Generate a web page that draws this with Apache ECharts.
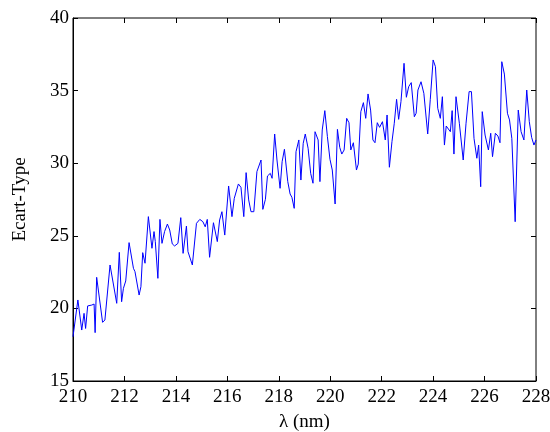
<!DOCTYPE html>
<html>
<head>
<meta charset="utf-8">
<script src="https://cdn.jsdelivr.net/npm/echarts@6/dist/echarts.min.js"></script>
<style>
  html, body { margin: 0; padding: 0; background: #fff; }
  #chart { width: 550px; height: 432px; }
</style>
</head>
<body>
<div id="chart"></div>
<script>
// longueur d'onde (nm) et écart-type
var wavelength = [
  210.00, 210.19, 210.34, 210.43, 210.49, 210.57, 210.73, 210.82, 210.86, 210.92,
  211.15, 211.24, 211.44, 211.70, 211.80, 211.89, 211.96, 212.05, 212.18, 212.35,
  212.41, 212.57, 212.64, 212.71, 212.80, 212.93, 213.07, 213.15, 213.20, 213.30,
  213.38, 213.46, 213.56, 213.67, 213.76, 213.86, 213.95, 214.08, 214.19, 214.28,
  214.41, 214.47, 214.54, 214.64, 214.80, 214.93, 215.05, 215.14, 215.22, 215.31,
  215.46, 215.61, 215.70, 215.79, 215.90, 216.05, 216.18, 216.27, 216.43, 216.53,
  216.64, 216.73, 216.83, 216.92, 217.03, 217.15, 217.31, 217.38, 217.48, 217.56,
  217.67, 217.74, 217.84, 217.93, 218.05, 218.13, 218.22, 218.35, 218.44, 218.51,
  218.60, 218.67, 218.78, 218.86, 218.95, 219.03, 219.14, 219.24, 219.33, 219.41,
  219.53, 219.60, 219.69, 219.79, 219.89, 219.99, 220.08, 220.19, 220.28, 220.37,
  220.45, 220.54, 220.64, 220.73, 220.80, 220.90, 221.02, 221.09, 221.19, 221.29,
  221.38, 221.47, 221.57, 221.66, 221.74, 221.83, 221.92, 222.03, 222.14, 222.21,
  222.30, 222.40, 222.49, 222.58, 222.66, 222.75, 222.87, 222.96, 223.05, 223.15,
  223.27, 223.34, 223.41, 223.53, 223.64, 223.79, 223.89, 224.00, 224.09, 224.18,
  224.28, 224.36, 224.44, 224.51, 224.67, 224.74, 224.81, 224.89, 225.02, 225.17,
  225.28, 225.40, 225.49, 225.59, 225.70, 225.77, 225.85, 225.91, 226.02, 226.15,
  226.24, 226.31, 226.42, 226.52, 226.60, 226.67, 226.77, 226.89, 226.97, 227.06,
  227.19, 227.31, 227.42, 227.53, 227.64, 227.74, 227.83, 227.92, 228.00
];
var ecartType = [
  18.05, 20.58, 18.51, 19.66, 18.62, 20.17, 20.23, 20.30, 18.33, 22.14,
  19.04, 19.20, 22.99, 20.35, 23.86, 20.46, 21.38, 21.89, 24.53, 22.76,
  22.53, 20.92, 21.49, 23.84, 23.11, 26.32, 24.14, 25.29, 24.60, 22.07,
  26.13, 24.48, 25.29, 25.81, 25.40, 24.44, 24.30, 24.48, 26.25, 23.79,
  25.67, 23.91, 23.91, 22.99, 25.86, 26.13, 25.97, 25.62, 26.13, 23.52,
  25.90, 24.60, 26.09, 26.66, 25.05, 28.43, 26.32, 27.58, 28.57, 28.34,
  26.32, 29.35, 27.47, 26.66, 26.66, 29.42, 30.22, 26.82, 27.51, 29.12,
  29.30, 28.96, 32.01, 30.22, 28.27, 30.10, 30.96, 28.73, 27.88, 27.65,
  26.89, 30.79, 31.60, 28.84, 31.37, 32.01, 31.03, 29.30, 28.62, 32.17,
  31.60, 28.73, 32.29, 33.62, 31.83, 30.27, 29.53, 27.19, 32.33, 31.09,
  30.63, 30.91, 33.09, 32.79, 30.91, 31.41, 29.53, 29.94, 33.55, 34.17,
  33.09, 34.77, 33.66, 31.60, 31.41, 32.79, 32.47, 32.86, 31.60, 33.32,
  29.72, 31.48, 32.75, 34.40, 33.02, 34.24, 36.88, 34.54, 35.27, 35.55,
  33.20, 33.44, 35.04, 35.61, 34.81, 32.01, 34.40, 37.11, 36.65, 33.78,
  33.09, 34.58, 31.25, 32.56, 32.17, 33.62, 30.63, 34.58, 32.75, 30.22,
  32.75, 34.93, 34.93, 31.71, 30.34, 31.25, 28.38, 33.55, 31.94, 30.91,
  32.06, 30.45, 32.06, 31.87, 31.41, 36.99, 36.14, 33.44, 32.98, 31.71,
  25.97, 33.66, 32.17, 31.60, 35.04, 32.86, 31.78, 31.25, 31.60
];

var xMin = 210, xMax = 228, xStep = 2;
var yMin = 15, yMax = 40, yStep = 5;

var chart = echarts.init(document.getElementById('chart'), null, { renderer: 'canvas' });

var points = wavelength.map(function (x, i) { return [x, ecartType[i]]; });

var font = 'Liberation Serif';
var tickStyle = { show: true, inside: true, length: 5, lineStyle: { color: '#000', width: 1 } };

var option = {
  backgroundColor: '#fff',
  animation: false,
  grid: {
    left: 73, right: 14, top: 18, bottom: 51,
    outerBoundsMode: 'none', containLabel: false,
    show: true, borderColor: '#000', borderWidth: 1, backgroundColor: 'transparent'
  },
  xAxis: [{
    type: 'value', min: xMin, max: xMax, interval: xStep,
    name: 'λ (nm)', nameLocation: 'middle', nameGap: 32,
    nameTextStyle: { fontFamily: font, fontSize: 19, color: '#000' },
    axisLine: { show: true, lineStyle: { color: '#000', width: 1 } },
    axisTick: tickStyle,
    axisLabel: { fontFamily: font, fontSize: 19, color: '#000', margin: 7 },
    splitLine: { show: false }
  }, {
    type: 'value', position: 'top', min: xMin, max: xMax, interval: xStep,
    axisLine: { show: false }, axisTick: tickStyle,
    axisLabel: { show: false }, splitLine: { show: false }
  }],
  yAxis: [{
    type: 'value', min: yMin, max: yMax, interval: yStep,
    name: 'Ecart-Type', nameLocation: 'middle', nameGap: 43, nameRotate: 90,
    nameTextStyle: { fontFamily: font, fontSize: 19, color: '#000' },
    axisLine: { show: true, lineStyle: { color: '#000', width: 1 } },
    axisTick: tickStyle,
    axisLabel: { fontFamily: font, fontSize: 19, color: '#000', margin: 4 },
    splitLine: { show: false }
  }, {
    type: 'value', position: 'right', min: yMin, max: yMax, interval: yStep,
    axisLine: { show: false }, axisTick: tickStyle,
    axisLabel: { show: false }, splitLine: { show: false }
  }],
  series: [{
    type: 'line',
    data: points,
    xAxisIndex: 0, yAxisIndex: 0,
    showSymbol: false,
    lineStyle: { color: '#0000ff', width: 1 },
    itemStyle: { color: '#0000ff' }
  }]
};

chart.setOption(option);
</script>
</body>
</html>
